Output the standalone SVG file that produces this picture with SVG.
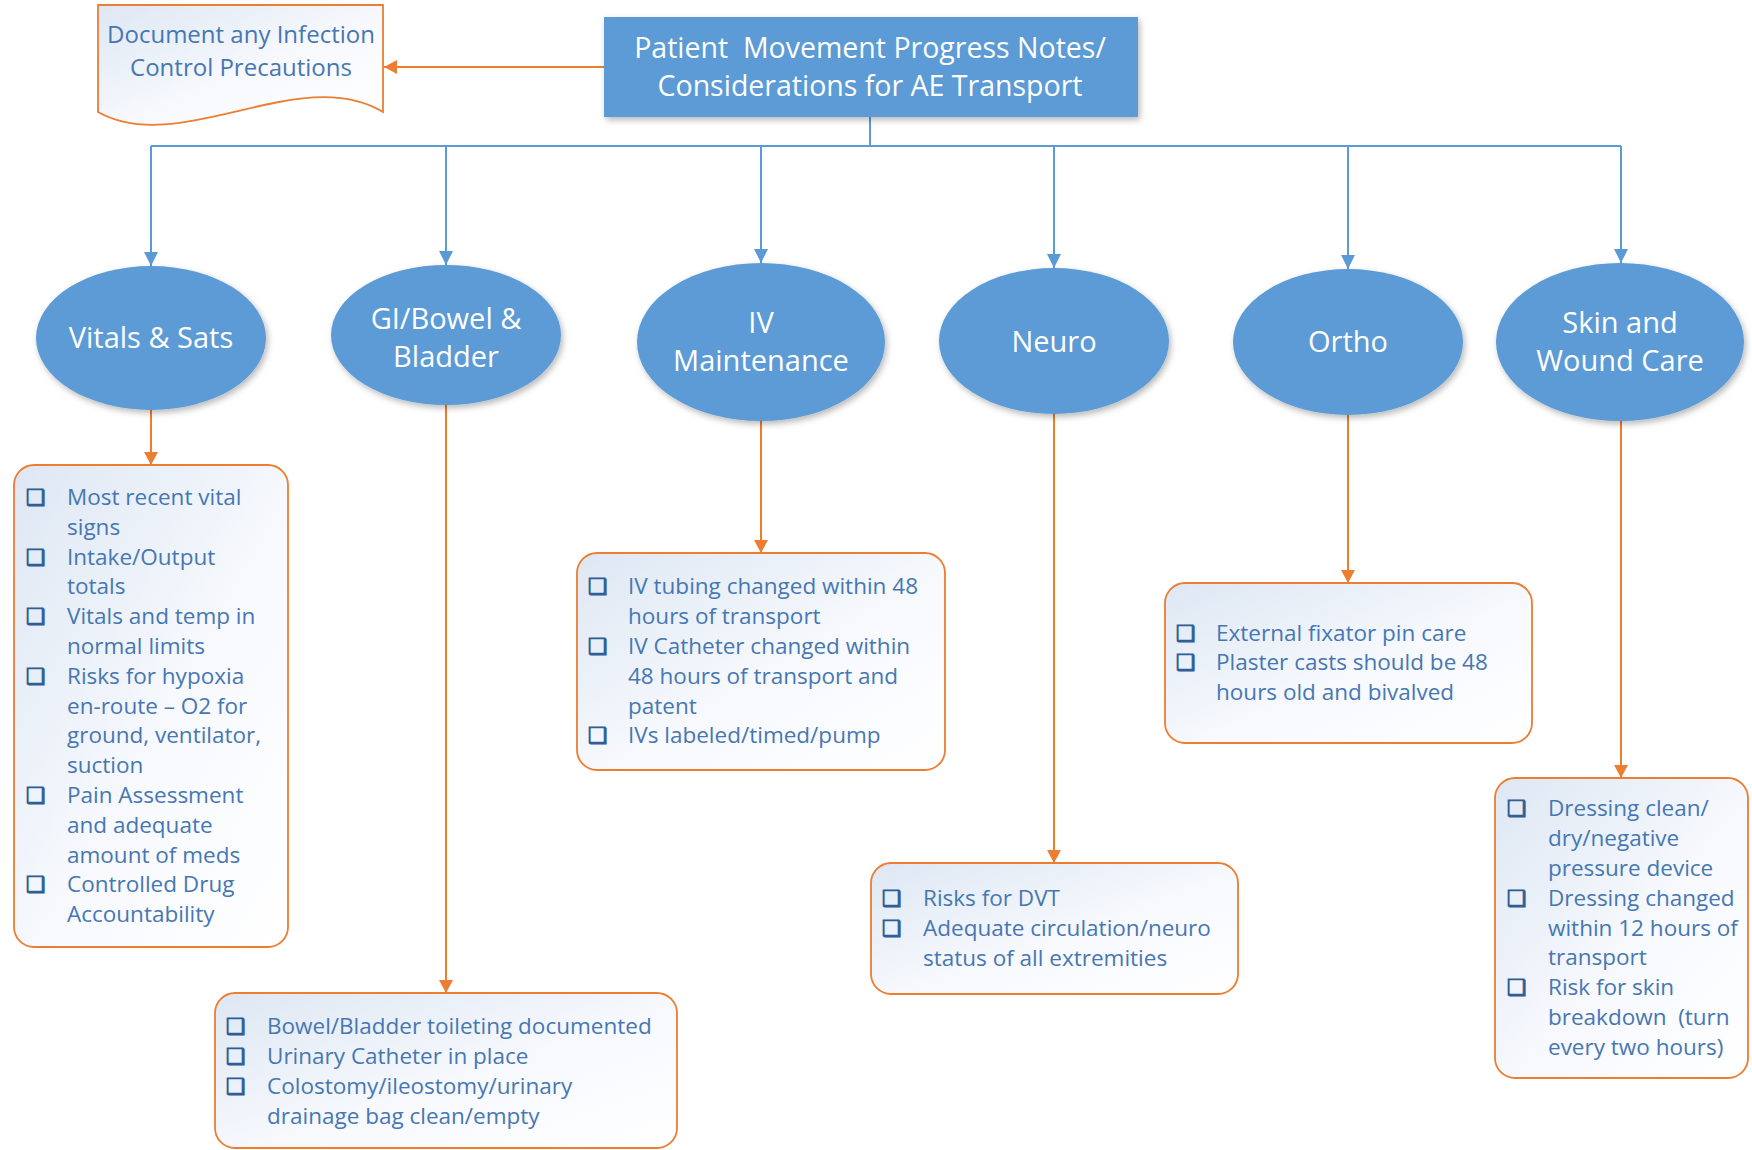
<svg xmlns="http://www.w3.org/2000/svg" width="1752" height="1150" viewBox="0 0 1752 1150">
<style>
.hdr{font-family:"Open Sans","Noto Sans","DejaVu Sans",sans-serif;font-size:28.5px;fill:#ffffff;text-anchor:middle}
.ell{font-family:"Open Sans","Noto Sans","DejaVu Sans",sans-serif;font-size:29px;fill:#ffffff;text-anchor:middle}
.li{font-family:"Open Sans","Noto Sans","DejaVu Sans",sans-serif;font-size:22.5px;fill:#4677b3}
.doc{font-family:"Open Sans","Noto Sans","DejaVu Sans",sans-serif;font-size:24px;fill:#4677b3;text-anchor:middle}
.bx{font-family:"DejaVu Sans",sans-serif;font-size:22px;fill:#2f5d96;stroke:#2f5d96;stroke-width:0.9}
.blue{fill:none;stroke:#5b9bd5;stroke-width:2}
.orng{fill:none;stroke:#ed7d31;stroke-width:2}
.oval{fill:#5b9bd5;filter:url(#sh)}
.card{fill:url(#cardg);stroke:#ed7d31;stroke-width:1.8}
</style>
<defs>
<linearGradient id="cardg" x1="0" y1="0" x2="1" y2="1">
<stop offset="0" stop-color="#dde7f3"/>
<stop offset="0.55" stop-color="#f7f9fd"/>
<stop offset="1" stop-color="#ffffff"/>
</linearGradient>
<filter id="sh" x="-20%" y="-20%" width="140%" height="150%">
<feDropShadow dx="2" dy="3" stdDeviation="3" flood-color="#000" flood-opacity="0.28"/>
</filter>
<marker id="ab" markerUnits="userSpaceOnUse" markerWidth="16" markerHeight="16" refX="14" refY="7" orient="auto">
<path d="M0,0 L14,7 L0,14 Z" fill="#5b9bd5"/>
</marker>
<marker id="ao" markerUnits="userSpaceOnUse" markerWidth="16" markerHeight="16" refX="13" refY="7" orient="auto">
<path d="M0,0 L13,7 L0,14 Z" fill="#ed7d31"/>
</marker>
</defs>
<rect width="1752" height="1150" fill="#ffffff"/>

<g id="connectors">
<path class="blue" d="M870,117 V146 M151,146 H1621"/>
<path class="blue" marker-end="url(#ab)" d="M151,146 V266"/>
<path class="blue" marker-end="url(#ab)" d="M446,146 V265"/>
<path class="blue" marker-end="url(#ab)" d="M761,146 V263"/>
<path class="blue" marker-end="url(#ab)" d="M1054,146 V268"/>
<path class="blue" marker-end="url(#ab)" d="M1348,146 V269"/>
<path class="blue" marker-end="url(#ab)" d="M1621,146 V263"/>
<path class="orng" marker-end="url(#ao)" d="M604,67 H384"/>
<path class="orng" marker-end="url(#ao)" d="M151,410 V465"/>
<path class="orng" marker-end="url(#ao)" d="M446,405 V993"/>
<path class="orng" marker-end="url(#ao)" d="M761,421 V553"/>
<path class="orng" marker-end="url(#ao)" d="M1054,414 V863"/>
<path class="orng" marker-end="url(#ao)" d="M1348,415 V583"/>
<path class="orng" marker-end="url(#ao)" d="M1621,421 V778"/>
</g>

<g id="doc-infection">
<path d="M98,5 H383 V112 C300,62 180,158 98,112 Z" fill="url(#cardg)" stroke="#ed7d31" stroke-width="1.8"/>
<text class="doc" x="241" y="43">Document any Infection</text>
<text class="doc" x="241" y="76">Control Precautions</text>
</g>

<g id="header">
<rect x="604" y="17" width="534" height="100" fill="#5b9bd5" filter="url(#sh)"/>
<text class="hdr" x="870" y="58" xml:space="preserve">Patient  Movement Progress Notes/</text>
<text class="hdr" x="870" y="96">Considerations for AE Transport</text>
</g>

<g id="vitals">
<ellipse class="oval" cx="151" cy="338" rx="115" ry="72"/>
<text class="ell" x="151" y="348">Vitals &amp; Sats</text>
</g>
<g id="gi">
<ellipse class="oval" cx="446" cy="335" rx="115" ry="70"/>
<text class="ell" x="446" y="329">GI/Bowel &amp;</text>
<text class="ell" x="446" y="367">Bladder</text>
</g>
<g id="iv">
<ellipse class="oval" cx="761" cy="342" rx="124" ry="79"/>
<text class="ell" x="761" y="333">IV</text>
<text class="ell" x="761" y="371">Maintenance</text>
</g>
<g id="neuro">
<ellipse class="oval" cx="1054" cy="341" rx="115" ry="73"/>
<text class="ell" x="1054" y="352">Neuro</text>
</g>
<g id="ortho">
<ellipse class="oval" cx="1348" cy="342" rx="115" ry="73"/>
<text class="ell" x="1348" y="352">Ortho</text>
</g>
<g id="skin">
<ellipse class="oval" cx="1620" cy="342" rx="124" ry="79"/>
<text class="ell" x="1620" y="333">Skin and</text>
<text class="ell" x="1620" y="371">Wound Care</text>
</g>

<g id="vitals-list">
<rect class="card" x="14" y="465" width="274" height="482" rx="20"/>
<text class="bx" x="26" y="505">❑</text>
<text class="bx" x="26" y="565">❑</text>
<text class="bx" x="26" y="624">❑</text>
<text class="bx" x="26" y="684">❑</text>
<text class="bx" x="26" y="803">❑</text>
<text class="bx" x="26" y="892">❑</text>
<text class="li" x="67" y="505">Most recent vital</text>
<text class="li" x="67" y="535">signs</text>
<text class="li" x="67" y="565">Intake/Output</text>
<text class="li" x="67" y="594">totals</text>
<text class="li" x="67" y="624">Vitals and temp in</text>
<text class="li" x="67" y="654">normal limits</text>
<text class="li" x="67" y="684">Risks for hypoxia</text>
<text class="li" x="67" y="714">en-route – O2 for</text>
<text class="li" x="67" y="743">ground, ventilator,</text>
<text class="li" x="67" y="773">suction</text>
<text class="li" x="67" y="803">Pain Assessment</text>
<text class="li" x="67" y="833">and adequate</text>
<text class="li" x="67" y="863">amount of meds</text>
<text class="li" x="67" y="892">Controlled Drug</text>
<text class="li" x="67" y="922">Accountability</text>
</g>

<g id="gi-list">
<rect class="card" x="215" y="993" width="462" height="155" rx="20"/>
<text class="bx" x="226" y="1034">❑</text>
<text class="bx" x="226" y="1064">❑</text>
<text class="bx" x="226" y="1094">❑</text>
<text class="li" x="267" y="1034">Bowel/Bladder toileting documented</text>
<text class="li" x="267" y="1064">Urinary Catheter in place</text>
<text class="li" x="267" y="1094">Colostomy/ileostomy/urinary</text>
<text class="li" x="267" y="1124">drainage bag clean/empty</text>
</g>

<g id="iv-list">
<rect class="card" x="577" y="553" width="368" height="217" rx="20"/>
<text class="bx" x="588" y="594">❑</text>
<text class="bx" x="588" y="654">❑</text>
<text class="bx" x="588" y="743">❑</text>
<text class="li" x="628" y="594">IV tubing changed within 48</text>
<text class="li" x="628" y="624">hours of transport</text>
<text class="li" x="628" y="654">IV Catheter changed within</text>
<text class="li" x="628" y="684">48 hours of transport and</text>
<text class="li" x="628" y="714">patent</text>
<text class="li" x="628" y="743">IVs labeled/timed/pump</text>
</g>

<g id="neuro-list">
<rect class="card" x="871" y="863" width="367" height="131" rx="20"/>
<text class="bx" x="882" y="906">❑</text>
<text class="bx" x="882" y="936">❑</text>
<text class="li" x="923" y="906">Risks for DVT</text>
<text class="li" x="923" y="936">Adequate circulation/neuro</text>
<text class="li" x="923" y="966">status of all extremities</text>
</g>

<g id="ortho-list">
<rect class="card" x="1165" y="583" width="367" height="160" rx="20"/>
<text class="bx" x="1176" y="641">❑</text>
<text class="bx" x="1176" y="670">❑</text>
<text class="li" x="1216" y="641">External fixator pin care</text>
<text class="li" x="1216" y="670">Plaster casts should be 48</text>
<text class="li" x="1216" y="700">hours old and bivalved</text>
</g>

<g id="skin-list">
<rect class="card" x="1495" y="778" width="253" height="300" rx="20"/>
<text class="bx" x="1507" y="816">❑</text>
<text class="bx" x="1507" y="906">❑</text>
<text class="bx" x="1507" y="995">❑</text>
<text class="li" x="1548" y="816">Dressing clean/</text>
<text class="li" x="1548" y="846">dry/negative</text>
<text class="li" x="1548" y="876">pressure device</text>
<text class="li" x="1548" y="906">Dressing changed</text>
<text class="li" x="1548" y="936">within 12 hours of</text>
<text class="li" x="1548" y="965">transport</text>
<text class="li" x="1548" y="995">Risk for skin</text>
<text class="li" x="1548" y="1025" xml:space="preserve">breakdown  (turn</text>
<text class="li" x="1548" y="1055">every two hours)</text>
</g>
</svg>
